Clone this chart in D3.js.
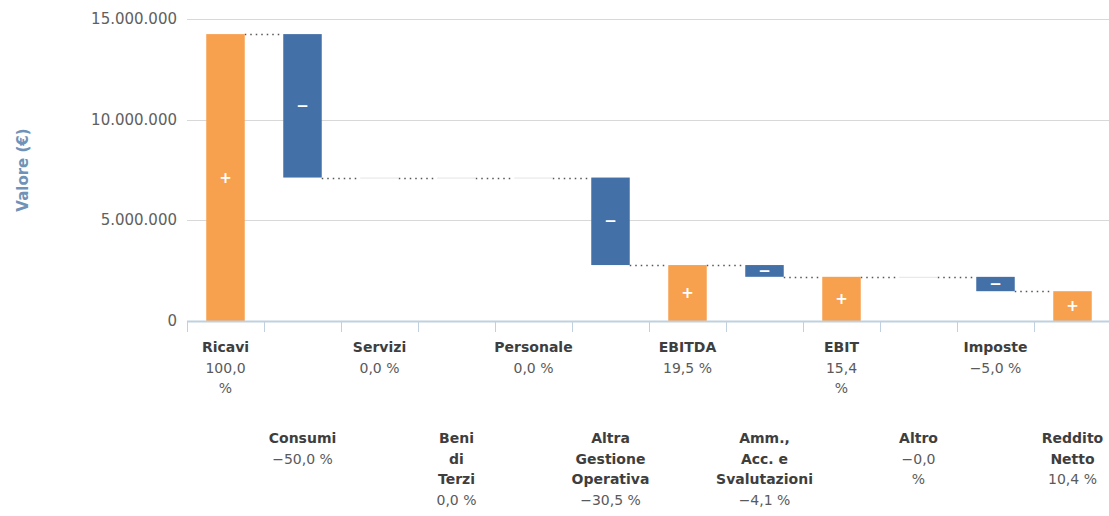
<!DOCTYPE html>
<html>
<head>
<meta charset="utf-8">
<script src="https://cdn.jsdelivr.net/npm/d3@7"></script>
<style>
  body { margin: 0; background: #fff; }
  svg { display: block; font-family: "DejaVu Sans", sans-serif; }
</style>
</head>
<body>
<div id="chart"></div>
<script>
// Waterfall data (euro)
const categories = ["Ricavi", "Consumi", "Servizi", "Beni di Terzi", "Personale",
  "Altra Gestione Operativa", "EBITDA", "Amm., Acc. e Svalutazioni", "EBIT",
  "Altro", "Imposte", "Reddito Netto"];
const values = [14250000, -7125000, 0, 0, 0, -4346000, null, -584000, null, -2000, -713000, null];
const isSum = [false, false, false, false, false, false, true, false, true, false, false, true];

// Tick label text, already split in lines like the original
const nameLines = [["Ricavi"], ["Consumi"], ["Servizi"], ["Beni", "di", "Terzi"], ["Personale"],
  ["Altra", "Gestione", "Operativa"], ["EBITDA"], ["Amm.,", "Acc. e", "Svalutazioni"], ["EBIT"],
  ["Altro"], ["Imposte"], ["Reddito", "Netto"]];
const percentLines = [["100,0", "%"], ["−50,0 %"], ["0,0 %"], ["0,0 %"], ["0,0 %"], ["−30,5 %"],
  ["19,5 %"], ["−4,1 %"], ["15,4", "%"], ["−0,0", "%"], ["−5,0 %"], ["10,4 %"]];
const yTicks = [0, 5000000, 10000000, 15000000];

const width = 1109, height = 516;
const plot = { left: 187, right: 1111, top: 19, bottom: 321 };

const svg = d3.select("#chart").append("svg")
  .attr("width", width)
  .attr("height", height);

// Build running totals
let running = 0;
const bars = categories.map((c, i) => {
  let start, end;
  if (isSum[i]) {
    start = 0; end = running;
  } else {
    start = running; end = running + values[i];
    running = end;
  }
  const positive = isSum[i] || values[i] > 0;
  return { name: c, start, end, positive, level: running, zero: !isSum[i] && Math.abs(values[i]) < 10000 };
});

const x = d3.scaleBand()
  .domain(categories)
  .range([plot.left, plot.right])
  .paddingInner(0)
  .paddingOuter(0);

const y = d3.scaleLinear()
  .domain([0, 15000000])
  .range([plot.bottom, plot.top]);

const barW = x.bandwidth() * 0.5;
const fmt = d3.formatLocale({ decimal: ",", thousands: ".", grouping: [3], currency: ["€", ""] }).format(",.0f");

// Grid lines
svg.append("g").selectAll("line")
  .data(yTicks.filter(d => d > 0))
  .enter().append("line")
  .attr("x1", plot.left).attr("x2", width)
  .attr("y1", d => Math.round(y(d)) + 0.5).attr("y2", d => Math.round(y(d)) + 0.5)
  .attr("stroke", "#d8d8d8")
  .attr("stroke-width", 1);

// Y tick labels
svg.append("g").selectAll("text")
  .data(yTicks)
  .enter().append("text")
  .attr("x", 177)
  .attr("y", d => y(d) + 5)
  .attr("text-anchor", "end")
  .attr("font-size", "15px")
  .attr("fill", "#606060")
  .text(d => fmt(d));

// Y axis title
svg.append("text")
  .attr("transform", `translate(28,${(plot.top + plot.bottom) / 2}) rotate(-90)`)
  .attr("text-anchor", "middle")
  .attr("font-size", "15px")
  .attr("font-weight", "bold")
  .attr("fill", "#6f92b8")
  .text("Valore (€)");

// Connector dotted lines
svg.append("g").selectAll("line")
  .data(bars.slice(0, -1))
  .enter().append("line")
  .attr("x1", (d, i) => x(categories[i]) + x.bandwidth() / 2 + barW / 2)
  .attr("x2", (d, i) => x(categories[i + 1]) + x.bandwidth() / 2 - barW / 2)
  .attr("y1", d => Math.round(y(d.level)) + 0.5)
  .attr("y2", d => Math.round(y(d.level)) + 0.5)
  .attr("stroke", "#555")
  .attr("stroke-width", 1.5)
  .attr("stroke-dasharray", "1.5,4");

// Bars
svg.append("g").selectAll("rect")
  .data(bars)
  .enter().append("rect")
  .attr("x", d => x(d.name) + x.bandwidth() / 2 - barW / 2)
  .attr("y", d => y(Math.max(d.start, d.end)))
  .attr("width", barW)
  .attr("height", d => Math.max(1, Math.abs(y(d.start) - y(d.end))))
  .attr("fill", d => d.zero ? "#e4e4e4" : (d.positive ? "#f7a14f" : "#4470a8"));

// + / − labels
svg.append("g").selectAll("text")
  .data(bars.filter(d => !d.zero))
  .enter().append("text")
  .attr("x", d => x(d.name) + x.bandwidth() / 2)
  .attr("y", d => (y(d.start) + y(d.end)) / 2 + 5)
  .attr("text-anchor", "middle")
  .attr("font-size", "15px")
  .attr("font-weight", "bold")
  .attr("fill", "#fff")
  .text(d => d.positive ? "+" : "−");

// X axis line and ticks
svg.append("line")
  .attr("x1", plot.left).attr("x2", width)
  .attr("y1", plot.bottom + 0.5).attr("y2", plot.bottom + 0.5)
  .attr("stroke", "#c0d0e0")
  .attr("stroke-width", 2);

const boundaries = categories.map(c => x(c)).concat([plot.right]);
svg.append("g").selectAll("line")
  .data(boundaries)
  .enter().append("line")
  .attr("x1", d => Math.round(d) + 0.5).attr("x2", d => Math.round(d) + 0.5)
  .attr("y1", plot.bottom).attr("y2", plot.bottom + 11)
  .attr("stroke", "#c0d0e0")
  .attr("stroke-width", 1);

// Category labels, staggered on two rows
const lineH = 20.5;
const labels = svg.append("g").selectAll("text")
  .data(categories)
  .enter().append("text")
  .attr("text-anchor", "middle")
  .attr("font-size", "14px")
  .attr("transform", (c, i) => `translate(${x(c) + x.bandwidth() / 2},${i % 2 === 0 ? 352 : 443})`);

labels.each(function(c, i) {
  const t = d3.select(this);
  nameLines[i].forEach((l, k) => {
    t.append("tspan").attr("x", 0).attr("dy", k === 0 ? 0 : lineH)
      .attr("font-weight", "bold").attr("fill", "#3e3e3e").text(l);
  });
  percentLines[i].forEach(l => {
    t.append("tspan").attr("x", 0).attr("dy", lineH)
      .attr("fill", "#5a5a5a").text(l);
  });
});
</script>
</body>
</html>
